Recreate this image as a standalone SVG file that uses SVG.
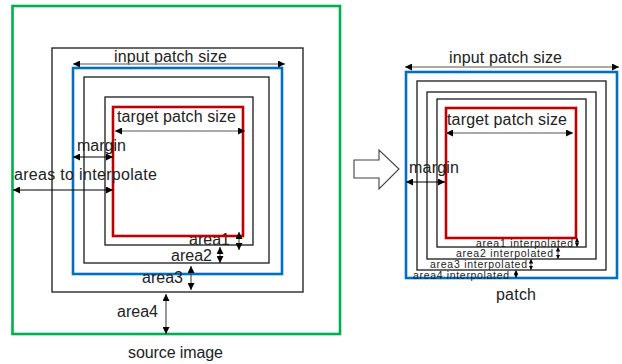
<svg xmlns="http://www.w3.org/2000/svg" width="622" height="364" viewBox="0 0 622 364">
<style>
text{font-family:"Liberation Sans",Arial,sans-serif;font-size:16px;fill:#222}
.sm{font-size:10.5px}
.box{fill:none;stroke:#1a1a1a;stroke-width:1.3}
.green{fill:none;stroke:#00b050;stroke-width:2.6}
.blue{fill:none;stroke:#0070c0;stroke-width:2.6}
.red{fill:none;stroke:#c00000;stroke-width:2.6}
.gl{stroke:#8c8c8c;stroke-width:1.3;fill:none}
.bl{stroke:#000;stroke-width:1.1;fill:none}
.vl{stroke:#444;stroke-width:1.1;fill:none}
</style>
<defs>
<marker id="ah" viewBox="0 0 10 10" refX="10" refY="5" markerWidth="8" markerHeight="7" markerUnits="userSpaceOnUse" orient="auto-start-reverse"><path d="M0,0 L10,5 L0,10 z" fill="#000"/></marker>
<marker id="ahs" viewBox="0 0 10 10" refX="10" refY="5" markerWidth="4.5" markerHeight="5" markerUnits="userSpaceOnUse" orient="auto-start-reverse"><path d="M0,0 L10,5 L0,10 z" fill="#000"/></marker>
</defs>
<g id="source-image"><rect class="green" x="12.5" y="6" width="327.5" height="328"/><text x="128" y="358" textLength="95">source image</text></g>
<g id="area4-left"><rect class="box" x="52" y="48" width="251" height="244"/><text x="117" y="317" textLength="41">area4</text></g>
<g id="input-patch-left"><rect class="blue" x="73" y="68" width="209" height="206"/><text x="114" y="62" textLength="113">input patch size</text></g>
<g id="area3-left"><text x="142" y="283" textLength="41">area3</text></g>
<g id="area2-left"><rect class="box" x="84" y="77" width="185" height="186"/><text x="171" y="261" textLength="41">area2</text></g>
<g id="area1-left"><rect class="box" x="105" y="97" width="148" height="148"/><text x="189" y="245" textLength="41">area1</text></g>
<g id="target-patch-left"><rect class="red" x="113" y="107" width="130" height="129"/><text x="117" y="122" textLength="119">target patch size</text></g>
<g id="margin-left"><text x="77" y="151" textLength="49">margin</text></g>
<g id="areas-label"><text x="14" y="180" textLength="143">areas to interpolate</text></g>
<g id="transform-arrow"><polygon points="354,160 379,160 379,150 399,169 379,189 379,178 354,178" fill="#fff" stroke="#404040" stroke-width="1.1"/></g>
<g id="patch"><rect class="blue" x="406" y="72" width="211" height="206"/><text x="449" y="63" textLength="113">input patch size</text><text x="496" y="300" textLength="40">patch</text></g>
<g id="area4-right"><rect class="box" x="417" y="81" width="189" height="189"/><text class="sm" x="413" y="279" textLength="96">area4 interpolated</text></g>
<g id="area3-right"><rect class="box" x="427" y="92" width="169" height="167"/><text class="sm" x="430" y="268" textLength="97">area3 interpolated</text></g>
<g id="area2-right"><rect class="box" x="437" y="99" width="149" height="148"/><text class="sm" x="456" y="257" textLength="97">area2 interpolated</text></g>
<g id="target-patch-right"><rect class="red" x="446" y="108" width="130" height="130"/><text x="447" y="125" textLength="120">target patch size</text><text class="sm" x="476" y="246.5" textLength="97">area1 interpolated</text></g>
<g id="margin-right"><text x="409" y="173" textLength="50">margin</text></g>
<g id="connectors">
<line class="gl" x1="73" y1="64" x2="285" y2="64" marker-start="url(#ah)" marker-end="url(#ah)"/>
<line class="gl" x1="115" y1="131" x2="245" y2="131" marker-start="url(#ah)" marker-end="url(#ah)"/>
<line class="bl" x1="73" y1="157" x2="113" y2="157" marker-start="url(#ah)" marker-end="url(#ah)"/>
<line class="bl" x1="13" y1="190" x2="113" y2="190" marker-start="url(#ah)" marker-end="url(#ah)"/>
<line class="vl" x1="239" y1="232" x2="239" y2="250" marker-start="url(#ah)" marker-end="url(#ah)"/>
<line class="vl" x1="220" y1="247" x2="220" y2="263" marker-start="url(#ah)" marker-end="url(#ah)"/>
<line class="vl" x1="191" y1="266" x2="191" y2="290" marker-start="url(#ah)" marker-end="url(#ah)"/>
<line class="vl" x1="166" y1="294" x2="166" y2="334" marker-start="url(#ah)" marker-end="url(#ah)"/>
<line class="gl" x1="405" y1="67" x2="619" y2="67" marker-start="url(#ah)" marker-end="url(#ah)"/>
<line class="gl" x1="446" y1="133" x2="573" y2="133" marker-start="url(#ah)" marker-end="url(#ah)"/>
<line class="bl" x1="406" y1="182" x2="445" y2="182" marker-start="url(#ah)" marker-end="url(#ah)"/>
<line class="vl" x1="577" y1="238" x2="577" y2="247" marker-start="url(#ahs)" marker-end="url(#ahs)"/>
<line class="vl" x1="558" y1="247" x2="558" y2="259" marker-start="url(#ahs)" marker-end="url(#ahs)"/>
<line class="vl" x1="531" y1="259" x2="531" y2="270" marker-start="url(#ahs)" marker-end="url(#ahs)"/>
<line class="vl" x1="516" y1="270" x2="516" y2="278" marker-start="url(#ahs)" marker-end="url(#ahs)"/>
</g>
</svg>
